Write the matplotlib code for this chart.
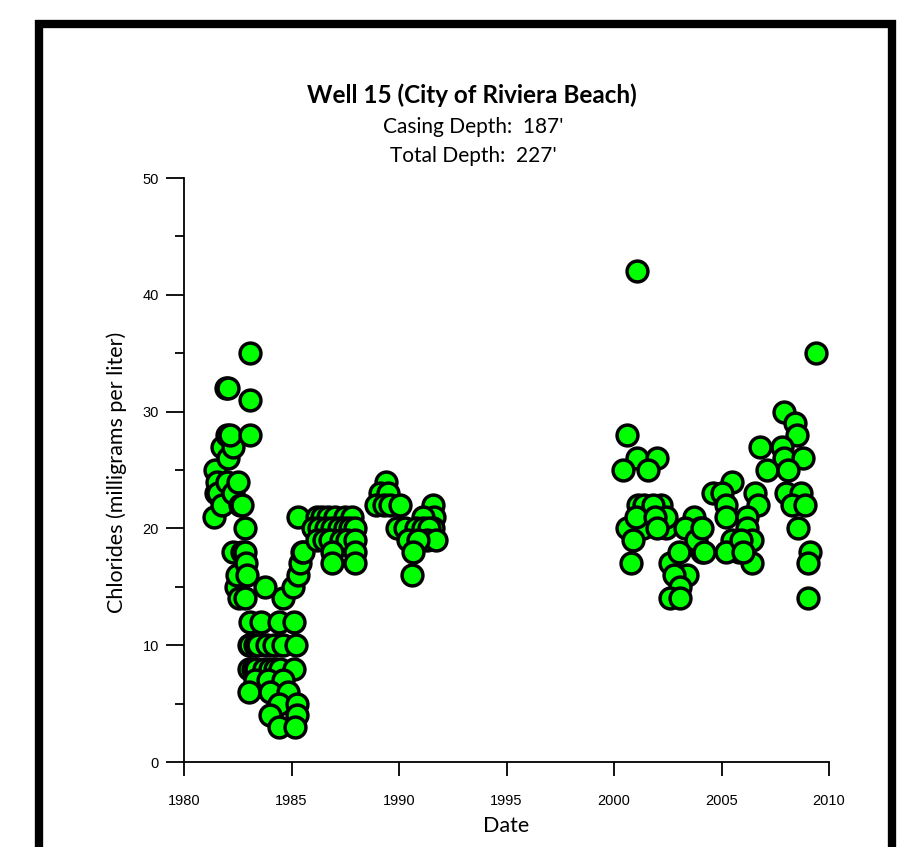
import matplotlib
matplotlib.use("Agg")
import matplotlib.pyplot as plt
from matplotlib.patches import Rectangle
from matplotlib.ticker import MultipleLocator

# Chloride samples, Well 15 (decimal year, mg/L)
years_80s = [1981.40, 1981.45, 1981.50, 1981.55, 1981.60, 1981.75, 1981.75, 1981.95,
             1982.05, 1982.00, 1982.05, 1982.00, 1982.30, 1982.15, 1982.30, 1982.30,
             1982.40, 1982.45, 1982.50, 1982.55, 1982.60, 1982.70, 1982.70, 1982.85,
             1982.85, 1982.85, 1982.90, 1982.95, 1983.05, 1983.05, 1983.05, 1983.75]
chl_80s = [21, 25, 23, 24, 23, 22, 27, 32,
           32, 28, 26, 24, 27, 28, 23, 18,
           15, 16, 24, 14, 22, 22, 18, 20,
           18, 14, 17, 16, 35, 31, 28, 15]

years_low = [1983.07, 1983.60, 1984.40, 1985.10,
             1983.00, 1983.07, 1983.30, 1983.45, 1983.85, 1984.20, 1984.60, 1985.20,
             1983.00, 1983.20, 1983.35, 1983.70, 1984.00, 1984.25, 1984.45, 1985.10,
             1983.30, 1983.90, 1984.60,
             1983.00, 1984.00, 1984.85,
             1984.40, 1985.25, 1984.00, 1985.25, 1984.40, 1985.15,
             1984.60, 1985.05, 1985.30, 1985.40, 1985.50, 1985.55, 1985.30]
chl_low = [12, 12, 12, 12,
           10, 10, 10, 10, 10, 10, 10, 10,
           8, 8, 8, 8, 8, 8, 8, 8,
           7, 7, 7,
           6, 6, 6,
           5, 5, 4, 4, 3, 3,
           14, 15, 16, 17, 18, 18, 21]

years_87 = [1986.2, 1986.4, 1986.7, 1987.0, 1987.5, 1987.8,
            1986.0, 1986.3, 1986.6, 1986.9, 1987.2, 1987.5, 1987.7, 1987.95,
            1986.2, 1986.5, 1986.8, 1987.3, 1987.6, 1987.95,
            1986.9, 1987.95, 1986.9, 1987.95]
chl_87 = [21, 21, 21, 21, 21, 21,
          20, 20, 20, 20, 20, 20, 20, 20,
          19, 19, 19, 19, 19, 19,
          18, 18, 17, 17]

years_90 = [1989.4, 1989.1, 1989.5, 1988.95, 1989.3, 1989.6, 1990.05, 1991.6,
            1991.65, 1991.1, 1991.6, 1989.9, 1990.3, 1990.8, 1991.1, 1991.4,
            1990.4, 1991.3, 1991.7, 1990.9, 1990.65, 1990.6]
chl_90 = [24, 23, 23, 22, 22, 22, 22, 22,
          21, 21, 20, 20, 20, 20, 20, 20,
          19, 19, 19, 19, 18, 16]

years_00 = [2000.6, 2001.05, 2002.0, 2000.4, 2001.6, 2001.1, 2001.4, 2002.2, 2001.8,
            2000.6, 2001.35, 2002.4, 2002.4, 2000.9, 2000.8, 2001.05,
            2001.0, 2001.9, 2002.0,
            2003.7, 2004.0, 2003.3, 2004.1, 2003.8, 2002.6, 2003.0, 2003.4,
            2002.8, 2003.05, 2002.6, 2003.05, 2004.6]
chl_00 = [28, 26, 26, 25, 25, 22, 22, 22, 22,
          20, 20, 20, 21, 19, 17, 42,
          21, 21, 20,
          21, 20, 20, 18, 19, 17, 18, 16,
          16, 15, 14, 14, 23]

years_05 = [2009.4, 2007.9, 2008.4, 2008.5, 2006.8, 2007.8, 2007.9, 2008.8, 2007.1,
            2008.1, 2005.5, 2005.0, 2006.55, 2008.0, 2008.7, 2005.2, 2006.7, 2008.3,
            2008.9, 2005.2, 2006.2, 2004.1, 2008.56, 2006.2, 2005.5, 2006.4, 2005.8,
            2005.2, 2004.2, 2006.4, 2009.1, 2009.0, 2009.0, 2005.9, 2006.0]
chl_05 = [35, 30, 29, 28, 27, 27, 26, 26, 25,
          25, 24, 23, 23, 23, 23, 22, 22, 22,
          22, 21, 21, 20, 20, 20, 19, 19, 18,
          18, 18, 17, 18, 17, 14, 19, 18]

years = years_80s + years_low + years_87 + years_90 + years_00 + years_05
chlorides = chl_80s + chl_low + chl_87 + chl_90 + chl_00 + chl_05

fig = plt.figure(figsize=(8.97, 8.47), dpi=100)
ax = fig.add_axes([184 / 897, 1 - 762 / 847, (829 - 184) / 897, (762 - 178) / 847])

ax.scatter(years, chlorides, s=225, c="#00ff00", edgecolors="black",
           linewidths=2.5, zorder=3, clip_on=False)

ax.set_xlim(1980, 2010)
ax.set_ylim(0, 50)
ax.set_xticks(range(1980, 2011, 5))
ax.yaxis.set_major_locator(MultipleLocator(10))
ax.yaxis.set_minor_locator(MultipleLocator(5))
ax.spines["top"].set_visible(False)
ax.spines["right"].set_visible(False)
for sp in ("left", "bottom"):
    ax.spines[sp].set_linewidth(1.3)
ax.tick_params(axis="y", which="major", direction="out", length=13, width=1.3,
               pad=5, labelsize=10.5)
ax.tick_params(axis="y", which="minor", direction="out", length=6.5, width=1.3)
ax.tick_params(axis="x", which="major", direction="out", length=10, width=1.3,
               pad=13, labelsize=10.5)
for lab in ax.get_xticklabels() + ax.get_yticklabels():
    lab.set_family("Liberation Sans")

# titles and axis labels
fig.text(472 / 897, 1 - 95 / 847, "Well 15 (City of Riviera Beach)", ha="center",
         va="center", fontsize=17.5, fontweight="bold", family="Lato")
fig.text(473 / 897, 1 - 127 / 847, "Casing Depth:  187'", ha="center", va="center",
         fontsize=15, family="Lato")
fig.text(473 / 897, 1 - 156 / 847, "Total Depth:  227'", ha="center", va="center",
         fontsize=15, family="Lato")
fig.text(117 / 897, 1 - 472 / 847, "Chlorides (milligrams per liter)", rotation=90,
         ha="center", va="center", fontsize=15.5, family="Lato")
fig.text(506 / 897, 1 - 826 / 847, "Date", ha="center", va="center",
         fontsize=15.5, family="Lato")

# black frame around the chart
fig.patches.append(Rectangle((39 / 897, -0.05), (892 - 39) / 897, 1.05 - 24 / 847,
                             transform=fig.transFigure, fill=False,
                             edgecolor="black", linewidth=6))

fig.savefig("out.png", dpi=100)
